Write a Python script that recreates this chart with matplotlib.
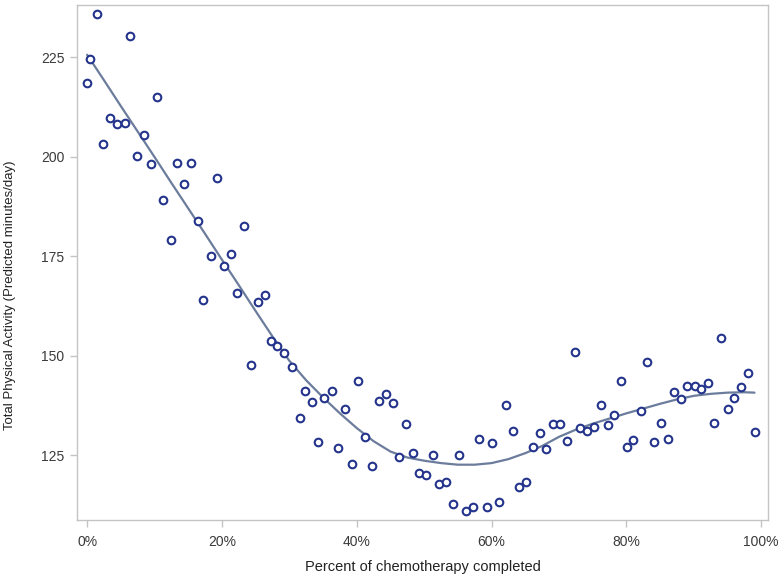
import matplotlib
matplotlib.use("Agg")
import matplotlib.pyplot as plt
from matplotlib.ticker import FuncFormatter

plt.rcParams['font.family'] = ['Liberation Sans', 'DejaVu Sans']

pct_completed = [0.0, 0.4, 1.5, 2.4, 3.4, 4.5, 5.6, 6.4, 7.4, 8.5, 9.5, 10.4, 11.3, 12.5,
                 13.4, 14.4, 15.4, 16.5, 17.2, 18.4, 19.3, 20.3, 21.4, 22.3, 23.3, 24.3,
                 25.4, 26.4, 27.3, 28.2, 29.2, 30.4, 31.6, 32.3, 33.4, 34.3, 35.2, 36.4,
                 37.2, 38.3, 39.3, 40.2, 41.2, 42.3, 43.3, 44.4, 45.4, 46.3, 47.3, 48.4,
                 49.3, 50.3, 51.3, 52.2, 53.3, 54.3, 55.2, 56.2, 57.3, 58.2, 59.3, 60.1,
                 61.1, 62.2, 63.2, 64.1, 65.1, 66.2, 67.2, 68.1, 69.1, 70.2, 71.2, 72.3,
                 73.1, 74.2, 75.2, 76.3, 77.3, 78.2, 79.2, 80.1, 81.0, 82.2, 83.1, 84.1,
                 85.2, 86.1, 87.1, 88.1, 89.0, 90.1, 91.1, 92.1, 93.0, 94.1, 95.0, 96.0,
                 97.0, 98.1, 99.1]
activity = [218.5, 224.5, 235.8, 203.1, 209.7, 208.2, 208.4, 230.3, 200.1, 205.4, 198.1,
            214.9, 189.1, 179.0, 198.4, 193.1, 198.4, 183.8, 163.9, 175.0, 194.6, 172.5,
            175.5, 165.7, 182.5, 147.6, 163.4, 165.2, 153.6, 152.4, 150.6, 147.1, 134.3,
            141.1, 138.3, 128.3, 139.3, 141.1, 126.8, 136.6, 122.7, 143.6, 129.5, 122.2,
            138.6, 140.3, 138.1, 124.5, 132.8, 125.5, 120.5, 120.0, 125.0, 117.7, 118.2,
            112.7, 125.0, 110.9, 111.9, 129.0, 111.9, 128.0, 113.2, 137.6, 131.0, 117.0,
            118.2, 127.0, 130.5, 126.5, 132.8, 132.8, 128.5, 150.9, 131.8, 131.0, 132.0,
            137.6, 132.5, 135.1, 143.6, 127.0, 128.8, 136.1, 148.4, 128.3, 133.0, 129.0,
            140.8, 139.1, 142.3, 142.3, 141.6, 143.1, 133.0, 154.4, 136.6, 139.3, 142.1,
            145.6, 130.8]

# smooth fitted curve
fit_x = [0, 2.5, 5, 7.5, 10, 12.5, 15, 17.5, 20, 22.5, 25, 27.5, 30, 32.5, 35, 37.5,
         40, 42.5, 45, 47.5, 50, 52.5, 55, 57.5, 60, 62.5, 65, 67.5, 70, 72.5, 75, 77.5,
         80, 82.5, 85, 87.5, 90, 92.5, 95, 97.5, 99]
fit_y = [225.6, 219.2, 212.7, 206.3, 199.9, 193.4, 187.0, 180.6, 174.1, 167.7, 161.2,
         154.8, 148.7, 143.8, 139.5, 135.5, 131.8, 128.5, 125.9, 124.4, 123.6, 123.0,
         122.6, 122.6, 123.0, 124.0, 125.5, 127.3, 129.6, 131.4, 132.9, 134.2, 135.5,
         136.7, 137.9, 139.0, 139.9, 140.4, 140.7, 140.8, 140.7]

x_ticks = [0, 20, 40, 60, 80, 100]
y_ticks = [125, 150, 175, 200, 225]

fig = plt.figure(figsize=(7.8, 5.82), dpi=100)
ax = fig.add_axes([0.0987, 0.1065, 0.8859, 0.885])

ax.plot(fit_x, fit_y, color='#6b7c9c', lw=1.6, zorder=2, solid_capstyle='round',
        solid_joinstyle='round')
ax.scatter(pct_completed, activity, s=30, facecolors='white', edgecolors='#24348c',
           linewidths=1.5, zorder=3)

ax.set_xlim(-1.5, 101.0)
ax.set_ylim(108.7, 238.1)
ax.set_xticks(x_ticks)
ax.set_yticks(y_ticks)
ax.xaxis.set_major_formatter(FuncFormatter(lambda v, p: f"{int(v)}%"))

for s in ax.spines.values():
    s.set_color('#c4c4c4')
    s.set_linewidth(1.0)
ax.tick_params(axis='both', colors='#c4c4c4', labelcolor='#3a3a3a', labelsize=10,
               length=5, width=1.0, direction='out')
ax.tick_params(axis='x', pad=6)
ax.tick_params(axis='y', pad=4)

ax.set_xlabel('Percent of chemotherapy completed', fontsize=10.5, color='#222222', labelpad=8)
ax.set_ylabel('Total Physical Activity (Predicted minutes/day)', fontsize=9.5, color='#222222')
ax.yaxis.set_label_coords(-0.088, 0.437)

fig.savefig('out.png', dpi=100, facecolor='white')
